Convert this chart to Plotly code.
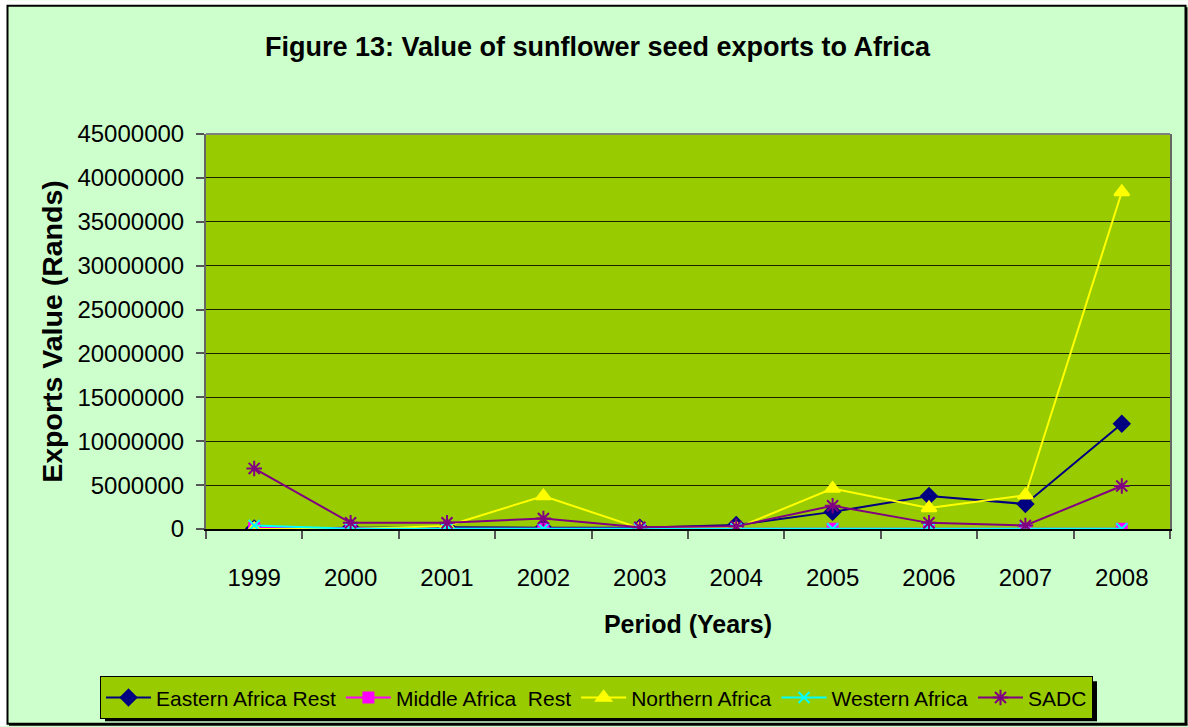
import plotly.graph_objects as go

# Export values of sunflower seed to African regions, in Rands
years = ["1999", "2000", "2001", "2002", "2003", "2004", "2005", "2006", "2007", "2008"]
eastern_africa_rest = [50000, 150000, 200000, 150000, 150000, 450000, 1950000, 3750000, 2850000, 12000000]
middle_africa_rest = [100000, 20000, 20000, 20000, 20000, 20000, 20000, 20000, 20000, 20000]
northern_africa = [0, 0, 350000, 3750000, 100000, 100000, 4600000, 2400000, 3850000, 38400000]
western_africa = [400000, 30000, 30000, 30000, 30000, 30000, 30000, 30000, 30000, 30000]
sadc = [6900000, 700000, 700000, 1200000, 200000, 300000, 2650000, 700000, 400000, 4900000]
y_ticks = [0, 5000000, 10000000, 15000000, 20000000, 25000000, 30000000, 35000000, 40000000, 45000000]

FONT = "Liberation Sans, Arial, sans-serif"
W, H = 1188, 727
L, R, T, B = 206, 1170, 134, 529.5


def px(x):
    return (x - L) / (R - L)


def py(y):
    return (B - y) / (B - T)


series = [
    ("Eastern Africa Rest", eastern_africa_rest, "#000080", "diamond", 12),
    ("Middle Africa\u00a0 Rest", middle_africa_rest, "#FF00FF", "square", 10),
    ("Northern Africa", northern_africa, "#FFFF00", "triangle-up", 13),
    ("Western Africa", western_africa, "#00FFFF", "x-thin-open", 11),
    ("SADC", sadc, "#800080", "asterisk-open", 13),
]

fig = go.Figure()
for name, vals, color, symbol, size in series:
    fig.add_trace(go.Scatter(
        x=years, y=vals, name=name, mode="lines+markers",
        line=dict(color=color, width=2),
        marker=dict(symbol=symbol, size=size, color=color,
                    line=dict(color=color, width=2)),
    ))

shapes = [
    # white margin outside the chart frame
    dict(type="rect", xref="paper", yref="paper", x0=px(0), x1=px(7), y0=py(H), y1=py(0),
         fillcolor="white", line=dict(width=0), layer="below"),
    dict(type="rect", xref="paper", yref="paper", x0=px(0), x1=px(W), y0=py(5), y1=py(0),
         fillcolor="white", line=dict(width=0), layer="below"),
    # chart frame
    dict(type="rect", xref="paper", yref="paper", x0=px(7.5), x1=px(1185.5), y0=py(724.5), y1=py(5.5),
         line=dict(color="black", width=2), layer="above"),
    dict(type="line", xref="paper", yref="paper", x0=px(1186.5), x1=px(1186.5), y0=py(725.5), y1=py(7),
         line=dict(color="black", width=2), layer="above"),
    dict(type="line", xref="paper", yref="paper", x0=px(9), x1=px(1187.5), y0=py(725.5), y1=py(725.5),
         line=dict(color="black", width=2), layer="above"),
    # plot area top border
    dict(type="line", xref="paper", yref="paper", x0=0, x1=1, y0=1, y1=1,
         line=dict(color="#808080", width=2), layer="above"),
    # legend shadow
    dict(type="rect", xref="paper", yref="paper", x0=px(105), x1=px(1097), y0=py(722), y1=py(682),
         fillcolor="black", line=dict(width=0), layer="above"),
]

fig.update_layout(
    width=W, height=H,
    margin=dict(l=L, r=W - R, t=T, b=H - B, pad=0, autoexpand=False),
    paper_bgcolor="#CCFFCC",
    plot_bgcolor="#99CC00",
    font=dict(family=FONT, color="black"),
    title=dict(text="<b>Figure 13: Value of sunflower seed exports to Africa</b>",
               x=0.503, xanchor="center", y=1 - 47 / H, yanchor="middle",
               font=dict(size=27, family=FONT, color="black")),
    xaxis=dict(
        type="category", range=[-0.5, 9.5],
        showgrid=False, zeroline=False,
        showline=True, linecolor="black", linewidth=1.5,
        ticks="outside", tickson="boundaries", ticklen=8, tickcolor="#555", tickwidth=1.5,
        tickfont=dict(size=24, family=FONT, color="black"),
        ticklabelstandoff=26,
        title=dict(text="<b>Period (Years)</b>", font=dict(size=25, family=FONT, color="black"),
                   standoff=26),
    ),
    yaxis=dict(
        range=[0, 45000000], tickvals=y_ticks, ticktext=[str(v) for v in y_ticks],
        showgrid=True, gridcolor="#1a2000", gridwidth=1,
        zeroline=False,
        showline=True, linecolor="#666", linewidth=2, mirror=True,
        ticks="outside", ticklen=8, tickcolor="#555", tickwidth=1.5,
        tickfont=dict(size=24, family=FONT, color="black"),
        ticklabelstandoff=7,
        title=dict(text="<b>Exports Value (Rands)</b>", font=dict(size=28.5, family=FONT, color="black"),
                   standoff=6),
    ),
    legend=dict(
        orientation="h", x=px(100), xanchor="left", y=py(677), yanchor="top",
        bgcolor="#99CC00", bordercolor="black", borderwidth=1,
        font=dict(size=21, family=FONT, color="black"),
        itemwidth=45, tracegroupgap=0,
    ),
    shapes=shapes,
    showlegend=True,
)

fig.write_html("out.html")
